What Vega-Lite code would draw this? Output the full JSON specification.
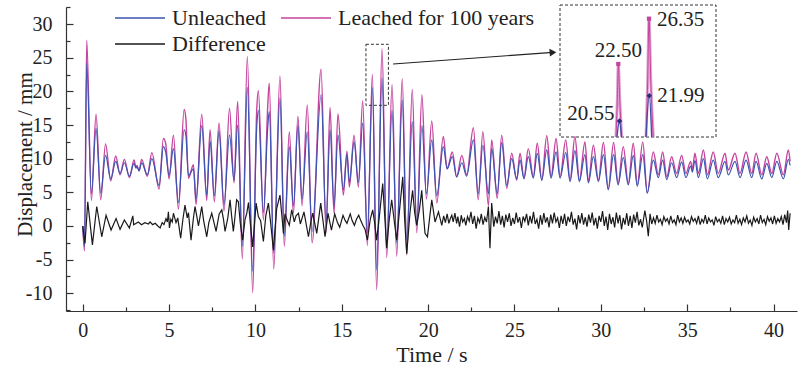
{
"$schema": "https://vega.github.io/schema/vega-lite/v6.json",
"width": 731, "height": 304,
"autosize": {"type": "none"},
"padding": {"left": 66, "top": 7, "right": 1, "bottom": 56},
"background": "white",
"config": {
  "view": {"stroke": null},
  "font": "Liberation Serif",
  "axis": {"grid": false, "domainColor": "#333", "tickColor": "#333", "domainWidth": 1.2, "tickWidth": 1.2, "labelColor": "#222", "titleColor": "#222", "labelFont": "Liberation Serif", "titleFont": "Liberation Serif", "labelFontSize": 20, "titleFontSize": 22, "titleFontWeight": "normal", "labelOverlap": false, "labelFlush": false}
},
"datasets": {
  "leached": [{"t":0,"v":0},{"t":0.1,"v":-3.7},{"t":0.23,"v":27.6},{"t":0.5,"v":3.8},{"t":0.77,"v":16.6},{"t":1.04,"v":3.9},{"t":1.32,"v":12.2},{"t":1.62,"v":6.7},{"t":1.91,"v":10.4},{"t":2.16,"v":7.6},{"t":2.41,"v":9.9},{"t":2.7,"v":7.2},{"t":2.97,"v":9.8},{"t":3.08,"v":8.7},{"t":3.14,"v":9.0},{"t":3.26,"v":8.2},{"t":3.41,"v":9.9},{"t":3.74,"v":7.4},{"t":4.0,"v":10.9},{"t":4.42,"v":5.5},{"t":4.67,"v":13.0},{"t":4.8,"v":12.3},{"t":5.0,"v":7.0},{"t":5.25,"v":13.5},{"t":5.54,"v":2.5},{"t":5.87,"v":17.3},{"t":5.97,"v":16.0},{"t":6.12,"v":7.1},{"t":6.41,"v":9.1},{"t":6.56,"v":3.2},{"t":6.89,"v":16.6},{"t":7.18,"v":3.8},{"t":7.37,"v":14.3},{"t":7.62,"v":3.6},{"t":7.89,"v":15.3},{"t":8.18,"v":2.2},{"t":8.5,"v":17.5},{"t":8.76,"v":6.4},{"t":8.97,"v":18.5},{"t":9.24,"v":-4.9},{"t":9.53,"v":25.2},{"t":9.84,"v":-9.9},{"t":10.07,"v":17.0},{"t":10.17,"v":20.1},{"t":10.46,"v":0.9},{"t":10.72,"v":18.3},{"t":10.8,"v":21.2},{"t":11.06,"v":-6.4},{"t":11.42,"v":22.3},{"t":11.67,"v":-3.0},{"t":11.96,"v":14.0},{"t":12.2,"v":1.9},{"t":12.46,"v":16.3},{"t":12.7,"v":3.0},{"t":13.0,"v":18.0},{"t":13.28,"v":-2.5},{"t":13.8,"v":23.3},{"t":14.09,"v":-1.0},{"t":14.32,"v":17.6},{"t":14.55,"v":1.9},{"t":14.78,"v":16.7},{"t":15.09,"v":4.6},{"t":15.3,"v":11.1},{"t":15.44,"v":5.8},{"t":15.71,"v":13.5},{"t":15.96,"v":5.8},{"t":16.21,"v":18.6},{"t":16.48,"v":-2.9},{"t":16.77,"v":22.5},{"t":17.02,"v":-9.5},{"t":17.33,"v":26.35},{"t":17.6,"v":-4.7},{"t":17.91,"v":21.0},{"t":18.18,"v":-4.5},{"t":18.5,"v":21.9},{"t":18.76,"v":-4.3},{"t":19.08,"v":20.3},{"t":19.34,"v":-1.0},{"t":19.64,"v":19.5},{"t":19.9,"v":4.0},{"t":20.21,"v":15.6},{"t":20.5,"v":3.4},{"t":20.88,"v":13.3},{"t":21.1,"v":8.5},{"t":21.4,"v":11.0},{"t":21.65,"v":7.3},{"t":21.95,"v":10.5},{"t":22.23,"v":7.6},{"t":22.62,"v":14.6},{"t":22.9,"v":3.9},{"t":23.17,"v":14.0},{"t":23.49,"v":3.0},{"t":23.68,"v":12.8},{"t":24.0,"v":4.1},{"t":24.26,"v":13.5},{"t":24.55,"v":5.6},{"t":24.84,"v":10.8},{"t":25.13,"v":6.8},{"t":25.32,"v":10.8},{"t":25.55,"v":7.1},{"t":25.8,"v":11.5},{"t":26.09,"v":7.3},{"t":26.32,"v":12.3},{"t":26.58,"v":6.8},{"t":26.87,"v":13.4},{"t":27.12,"v":7.3},{"t":27.41,"v":13.0},{"t":27.64,"v":7.3},{"t":27.97,"v":12.8},{"t":28.22,"v":6.8},{"t":28.5,"v":13.3},{"t":28.76,"v":6.8},{"t":29.08,"v":12.5},{"t":29.28,"v":6.6},{"t":29.57,"v":12.0},{"t":29.86,"v":6.8},{"t":30.15,"v":12.4},{"t":30.43,"v":5.5},{"t":30.74,"v":12.4},{"t":31.0,"v":6.3},{"t":31.3,"v":11.8},{"t":31.59,"v":6.3},{"t":31.88,"v":12.3},{"t":32.11,"v":6.1},{"t":32.43,"v":12.5},{"t":32.69,"v":4.9},{"t":33.04,"v":11.0},{"t":33.33,"v":7.6},{"t":33.58,"v":11.0},{"t":33.82,"v":7.3},{"t":34.1,"v":10.3},{"t":34.39,"v":7.8},{"t":34.68,"v":10.5},{"t":34.93,"v":7.8},{"t":35.2,"v":9.6},{"t":35.3,"v":8.4},{"t":35.45,"v":10.8},{"t":35.65,"v":7.8},{"t":35.94,"v":11.3},{"t":36.17,"v":7.6},{"t":36.51,"v":11.0},{"t":36.8,"v":7.8},{"t":37.19,"v":10.8},{"t":37.38,"v":8.3},{"t":37.77,"v":10.8},{"t":38.06,"v":7.8},{"t":38.41,"v":11.0},{"t":38.74,"v":7.8},{"t":38.99,"v":10.8},{"t":39.32,"v":7.6},{"t":39.61,"v":10.3},{"t":39.9,"v":7.8},{"t":40.19,"v":10.8},{"t":40.57,"v":7.6},{"t":40.86,"v":11.3},{"t":40.96,"v":9.6}],
  "unleached": [{"t":0,"v":0},{"t":0.1,"v":-3.0},{"t":0.23,"v":24.2},{"t":0.5,"v":4.8},{"t":0.77,"v":14.5},{"t":1.04,"v":4.9},{"t":1.32,"v":10.5},{"t":1.62,"v":7.0},{"t":1.91,"v":9.6},{"t":2.16,"v":7.8},{"t":2.41,"v":9.4},{"t":2.7,"v":7.4},{"t":2.97,"v":9.3},{"t":3.08,"v":8.6},{"t":3.14,"v":8.8},{"t":3.26,"v":8.2},{"t":3.41,"v":9.4},{"t":3.74,"v":7.6},{"t":4.0,"v":10.0},{"t":4.42,"v":6.0},{"t":4.67,"v":11.8},{"t":4.8,"v":11.0},{"t":5.0,"v":7.5},{"t":5.25,"v":11.5},{"t":5.54,"v":3.5},{"t":5.87,"v":14.3},{"t":5.97,"v":13.5},{"t":6.12,"v":7.5},{"t":6.41,"v":8.5},{"t":6.56,"v":4.0},{"t":6.89,"v":14.9},{"t":7.18,"v":4.6},{"t":7.37,"v":12.6},{"t":7.62,"v":4.5},{"t":7.89,"v":14.1},{"t":8.18,"v":3.2},{"t":8.5,"v":13.5},{"t":8.76,"v":6.8},{"t":8.97,"v":15.0},{"t":9.24,"v":-3.0},{"t":9.53,"v":20.6},{"t":9.84,"v":-6.7},{"t":10.07,"v":14.5},{"t":10.17,"v":17.2},{"t":10.46,"v":2.0},{"t":10.72,"v":15.0},{"t":10.8,"v":17.0},{"t":11.06,"v":-4.0},{"t":11.42,"v":19.0},{"t":11.67,"v":-1.5},{"t":11.96,"v":11.8},{"t":12.2,"v":3.0},{"t":12.46,"v":14.9},{"t":12.7,"v":4.0},{"t":13.0,"v":14.0},{"t":13.28,"v":-0.8},{"t":13.8,"v":19.5},{"t":14.09,"v":0.5},{"t":14.32,"v":14.3},{"t":14.55,"v":3.0},{"t":14.78,"v":13.5},{"t":15.09,"v":5.4},{"t":15.3,"v":10.6},{"t":15.44,"v":6.5},{"t":15.71,"v":12.5},{"t":15.96,"v":6.5},{"t":16.21,"v":15.3},{"t":16.48,"v":-1.0},{"t":16.77,"v":20.55},{"t":17.02,"v":-6.5},{"t":17.33,"v":21.99},{"t":17.6,"v":-2.8},{"t":17.91,"v":17.2},{"t":18.18,"v":-2.5},{"t":18.5,"v":18.7},{"t":18.76,"v":-2.0},{"t":19.08,"v":15.5},{"t":19.34,"v":0.5},{"t":19.64,"v":14.9},{"t":19.9,"v":4.8},{"t":20.21,"v":12.8},{"t":20.5,"v":4.5},{"t":20.88,"v":11.8},{"t":21.1,"v":8.5},{"t":21.4,"v":10.3},{"t":21.65,"v":7.3},{"t":21.95,"v":9.4},{"t":22.23,"v":7.4},{"t":22.62,"v":12.8},{"t":22.9,"v":4.8},{"t":23.17,"v":12.0},{"t":23.49,"v":4.8},{"t":23.68,"v":11.5},{"t":24.0,"v":4.8},{"t":24.26,"v":12.4},{"t":24.55,"v":6.0},{"t":24.84,"v":10.0},{"t":25.13,"v":7.0},{"t":25.32,"v":9.8},{"t":25.55,"v":7.0},{"t":25.8,"v":10.3},{"t":26.09,"v":7.1},{"t":26.32,"v":10.8},{"t":26.58,"v":6.8},{"t":26.87,"v":11.3},{"t":27.12,"v":7.1},{"t":27.41,"v":11.0},{"t":27.64,"v":7.1},{"t":27.97,"v":10.9},{"t":28.22,"v":6.6},{"t":28.5,"v":11.2},{"t":28.76,"v":6.6},{"t":29.08,"v":10.6},{"t":29.28,"v":6.4},{"t":29.57,"v":10.3},{"t":29.86,"v":6.6},{"t":30.15,"v":10.6},{"t":30.43,"v":5.4},{"t":30.74,"v":10.6},{"t":31.0,"v":6.1},{"t":31.3,"v":10.2},{"t":31.59,"v":6.1},{"t":31.88,"v":10.5},{"t":32.11,"v":5.9},{"t":32.43,"v":10.6},{"t":32.69,"v":4.9},{"t":33.04,"v":9.8},{"t":33.33,"v":7.2},{"t":33.58,"v":9.8},{"t":33.82,"v":6.9},{"t":34.1,"v":9.4},{"t":34.39,"v":7.2},{"t":34.68,"v":9.5},{"t":34.93,"v":7.2},{"t":35.2,"v":8.9},{"t":35.3,"v":8.0},{"t":35.45,"v":9.7},{"t":35.65,"v":7.2},{"t":35.94,"v":10.0},{"t":36.17,"v":7.0},{"t":36.51,"v":9.8},{"t":36.8,"v":7.2},{"t":37.19,"v":9.6},{"t":37.38,"v":7.6},{"t":37.77,"v":9.6},{"t":38.06,"v":7.2},{"t":38.41,"v":9.8},{"t":38.74,"v":7.2},{"t":38.99,"v":9.6},{"t":39.32,"v":7.0},{"t":39.61,"v":9.3},{"t":39.9,"v":7.2},{"t":40.19,"v":9.6},{"t":40.57,"v":7.0},{"t":40.86,"v":9.9},{"t":40.96,"v":9.0}],
  "difference": [{"t":0,"v":0},{"t":0.13,"v":-2.6},{"t":0.29,"v":3.6},{"t":0.56,"v":-2.8},{"t":0.81,"v":2.9},{"t":1.1,"v":-1.6},{"t":1.35,"v":1.6},{"t":1.64,"v":-0.6},{"t":1.93,"v":1.1},{"t":2.16,"v":-0.5},{"t":2.41,"v":0.9},{"t":2.7,"v":-0.3},{"t":2.9,"v":1.5},{"t":2.95,"v":0.2},{"t":3.22,"v":0.6},{"t":3.4,"v":0.2},{"t":3.6,"v":0.5},{"t":3.8,"v":0.3},{"t":3.9,"v":0.6},{"t":4.05,"v":0.2},{"t":4.2,"v":0.4},{"t":4.35,"v":0.0},{"t":4.48,"v":-0.3},{"t":4.6,"v":0.5},{"t":4.7,"v":0.2},{"t":4.82,"v":1.1},{"t":4.9,"v":0.6},{"t":4.96,"v":2.1},{"t":5.02,"v":-0.3},{"t":5.1,"v":1.0},{"t":5.18,"v":0.6},{"t":5.25,"v":1.9},{"t":5.4,"v":0.5},{"t":5.5,"v":1.2},{"t":5.67,"v":-1.8},{"t":5.8,"v":1.0},{"t":5.92,"v":3.1},{"t":6.05,"v":1.2},{"t":6.12,"v":2.0},{"t":6.27,"v":-2.1},{"t":6.4,"v":1.0},{"t":6.5,"v":2.9},{"t":6.6,"v":1.5},{"t":6.7,"v":0.0},{"t":6.8,"v":1.5},{"t":6.89,"v":2.9},{"t":7.0,"v":0.8},{"t":7.18,"v":-1.6},{"t":7.3,"v":0.5},{"t":7.47,"v":1.9},{"t":7.6,"v":0.5},{"t":7.72,"v":-0.8},{"t":7.9,"v":1.8},{"t":8.05,"v":2.4},{"t":8.15,"v":1.0},{"t":8.24,"v":-0.8},{"t":8.4,"v":1.2},{"t":8.53,"v":3.9},{"t":8.62,"v":1.5},{"t":8.72,"v":-0.8},{"t":8.8,"v":1.0},{"t":8.91,"v":3.9},{"t":9.01,"v":3.6},{"t":9.12,"v":0.5},{"t":9.26,"v":-2.1},{"t":9.4,"v":1.0},{"t":9.5,"v":1.9},{"t":9.6,"v":3.5},{"t":9.7,"v":0.5},{"t":9.84,"v":-3.1},{"t":10.04,"v":3.4},{"t":10.17,"v":1.4},{"t":10.3,"v":0.8},{"t":10.46,"v":-2.3},{"t":10.6,"v":1.5},{"t":10.75,"v":3.4},{"t":10.88,"v":0.5},{"t":11.04,"v":-3.6},{"t":11.23,"v":2.6},{"t":11.42,"v":4.6},{"t":11.55,"v":1.0},{"t":11.62,"v":-1.1},{"t":11.71,"v":1.8},{"t":11.85,"v":0.8},{"t":11.96,"v":0.1},{"t":12.1,"v":2.4},{"t":12.25,"v":0.6},{"t":12.35,"v":1.5},{"t":12.49,"v":1.9},{"t":12.6,"v":0.3},{"t":12.81,"v":2.1},{"t":13.07,"v":-1.6},{"t":13.2,"v":0.5},{"t":13.32,"v":1.9},{"t":13.45,"v":0.2},{"t":13.55,"v":-1.1},{"t":13.78,"v":3.4},{"t":14.03,"v":-1.6},{"t":14.2,"v":1.9},{"t":14.4,"v":-0.6},{"t":14.59,"v":1.8},{"t":14.75,"v":0.5},{"t":14.88,"v":-0.2},{"t":15.07,"v":1.6},{"t":15.2,"v":0.8},{"t":15.3,"v":0.4},{"t":15.49,"v":1.8},{"t":15.6,"v":0.8},{"t":15.73,"v":0.1},{"t":15.85,"v":1.0},{"t":15.98,"v":1.6},{"t":16.1,"v":0.8},{"t":16.22,"v":0.1},{"t":16.35,"v":-0.5},{"t":16.48,"v":-2.1},{"t":16.65,"v":1.0},{"t":16.79,"v":2.4},{"t":16.9,"v":0.5},{"t":17.02,"v":-2.1},{"t":17.2,"v":2.0},{"t":17.37,"v":6.3},{"t":17.6,"v":-3.3},{"t":17.75,"v":1.0},{"t":17.89,"v":3.9},{"t":18.05,"v":0.5},{"t":18.18,"v":-2.1},{"t":18.35,"v":2.5},{"t":18.53,"v":7.3},{"t":18.64,"v":1.0},{"t":18.76,"v":-4.1},{"t":18.95,"v":2.0},{"t":19.1,"v":5.3},{"t":19.22,"v":2.0},{"t":19.34,"v":0.1},{"t":19.5,"v":2.5},{"t":19.63,"v":5.3},{"t":19.75,"v":1.0},{"t":19.82,"v":-1.1},{"t":19.96,"v":-1.6},{"t":20.1,"v":1.5},{"t":20.21,"v":3.9},{"t":20.4,"v":0.6},{"t":20.6,"v":2.1},{"t":20.79,"v":0.1},{"t":20.9,"v":1.5},{"t":21.0,"v":0.5},{"t":21.1,"v":1.8},{"t":21.2,"v":0.4},{"t":21.3,"v":1.2},{"t":21.37,"v":1.6},{"t":21.45,"v":0.6},{"t":21.55,"v":1.9},{"t":21.65,"v":0.4},{"t":21.72,"v":1.4},{"t":21.82,"v":-0.1},{"t":21.92,"v":1.6},{"t":22.0,"v":0.6},{"t":22.1,"v":1.1},{"t":22.18,"v":0.1},{"t":22.28,"v":1.4},{"t":22.38,"v":0.7},{"t":22.48,"v":2.1},{"t":22.58,"v":0.3},{"t":22.68,"v":1.5},{"t":22.78,"v":-0.4},{"t":22.88,"v":1.2},{"t":22.98,"v":0.5},{"t":23.08,"v":1.8},{"t":23.18,"v":0.2},{"t":23.28,"v":1.3},{"t":23.38,"v":0.6},{"t":23.49,"v":2.9},{"t":23.58,"v":-3.3},{"t":23.68,"v":3.4},{"t":23.8,"v":-0.1},{"t":23.9,"v":1.4},{"t":24.0,"v":0.4},{"t":24.1,"v":2.2},{"t":24.2,"v":0.2},{"t":24.3,"v":1.5},{"t":24.4,"v":-0.2},{"t":24.5,"v":1.7},{"t":24.6,"v":0.6},{"t":24.7,"v":1.9},{"t":24.8,"v":0.0},{"t":24.9,"v":1.2},{"t":25.0,"v":0.3},{"t":25.1,"v":2.0},{"t":25.2,"v":0.5},{"t":25.3,"v":1.3},{"t":25.4,"v":-0.3},{"t":25.5,"v":1.4},{"t":25.6,"v":0.7},{"t":25.7,"v":1.8},{"t":25.8,"v":0.1},{"t":25.9,"v":1.5},{"t":26.0,"v":0.4},{"t":26.1,"v":2.1},{"t":26.2,"v":0.3},{"t":26.3,"v":1.0},{"t":26.4,"v":-0.4},{"t":26.5,"v":1.6},{"t":26.6,"v":0.2},{"t":26.7,"v":1.9},{"t":26.8,"v":0.5},{"t":26.9,"v":1.3},{"t":27.0,"v":-0.2},{"t":27.1,"v":1.7},{"t":27.2,"v":0.4},{"t":27.3,"v":2.0},{"t":27.4,"v":0.6},{"t":27.5,"v":1.2},{"t":27.6,"v":-0.3},{"t":27.7,"v":1.5},{"t":27.8,"v":0.3},{"t":27.9,"v":1.8},{"t":28.0,"v":0.0},{"t":28.1,"v":1.4},{"t":28.2,"v":0.6},{"t":28.3,"v":2.1},{"t":28.4,"v":0.2},{"t":28.5,"v":1.1},{"t":28.6,"v":-0.5},{"t":28.7,"v":1.6},{"t":28.8,"v":0.4},{"t":28.9,"v":1.9},{"t":29.0,"v":0.2},{"t":29.1,"v":1.3},{"t":29.2,"v":-0.1},{"t":29.3,"v":1.7},{"t":29.4,"v":0.5},{"t":29.5,"v":2.0},{"t":29.6,"v":0.1},{"t":29.7,"v":1.2},{"t":29.8,"v":-0.4},{"t":29.9,"v":1.5},{"t":30.0,"v":0.6},{"t":30.1,"v":2.2},{"t":30.2,"v":0.0},{"t":30.3,"v":1.4},{"t":30.4,"v":-0.6},{"t":30.5,"v":1.8},{"t":30.6,"v":0.3},{"t":30.7,"v":1.3},{"t":30.8,"v":-0.2},{"t":30.9,"v":2.0},{"t":31.0,"v":0.4},{"t":31.1,"v":1.6},{"t":31.2,"v":-0.5},{"t":31.3,"v":1.2},{"t":31.4,"v":0.2},{"t":31.5,"v":1.9},{"t":31.6,"v":0.0},{"t":31.7,"v":1.5},{"t":31.8,"v":-0.3},{"t":31.9,"v":1.7},{"t":32.0,"v":0.5},{"t":32.1,"v":2.1},{"t":32.2,"v":0.1},{"t":32.3,"v":1.0},{"t":32.4,"v":-0.2},{"t":32.55,"v":2.3},{"t":32.65,"v":0.8},{"t":32.75,"v":-1.5},{"t":32.85,"v":1.8},{"t":32.95,"v":0.3},{"t":33.05,"v":1.2},{"t":33.15,"v":0.4},{"t":33.25,"v":1.6},{"t":33.35,"v":0.6},{"t":33.45,"v":1.0},{"t":33.55,"v":0.2},{"t":33.65,"v":1.4},{"t":33.75,"v":0.7},{"t":33.85,"v":1.1},{"t":33.95,"v":0.3},{"t":34.05,"v":1.5},{"t":34.15,"v":0.5},{"t":34.25,"v":0.9},{"t":34.35,"v":0.2},{"t":34.45,"v":1.6},{"t":34.55,"v":0.6},{"t":34.65,"v":1.2},{"t":34.75,"v":0.4},{"t":34.85,"v":1.3},{"t":34.95,"v":0.6},{"t":35.05,"v":0.9},{"t":35.15,"v":0.3},{"t":35.25,"v":1.4},{"t":35.35,"v":0.7},{"t":35.45,"v":1.1},{"t":35.55,"v":0.4},{"t":35.65,"v":1.5},{"t":35.75,"v":0.2},{"t":35.85,"v":1.0},{"t":35.95,"v":0.5},{"t":36.05,"v":1.6},{"t":36.15,"v":0.3},{"t":36.25,"v":1.2},{"t":36.35,"v":0.6},{"t":36.45,"v":0.9},{"t":36.55,"v":0.1},{"t":36.65,"v":1.4},{"t":36.75,"v":0.6},{"t":36.85,"v":1.0},{"t":36.95,"v":0.4},{"t":37.05,"v":1.5},{"t":37.15,"v":0.2},{"t":37.25,"v":1.1},{"t":37.35,"v":0.6},{"t":37.45,"v":1.3},{"t":37.55,"v":0.3},{"t":37.65,"v":0.9},{"t":37.75,"v":0.5},{"t":37.85,"v":1.6},{"t":37.95,"v":0.4},{"t":38.05,"v":1.0},{"t":38.15,"v":0.2},{"t":38.25,"v":1.2},{"t":38.35,"v":0.6},{"t":38.45,"v":1.5},{"t":38.55,"v":0.4},{"t":38.65,"v":0.9},{"t":38.75,"v":0.1},{"t":38.85,"v":1.3},{"t":38.95,"v":0.6},{"t":39.05,"v":1.1},{"t":39.15,"v":0.3},{"t":39.25,"v":1.6},{"t":39.35,"v":0.5},{"t":39.45,"v":1.0},{"t":39.55,"v":0.2},{"t":39.65,"v":1.4},{"t":39.75,"v":0.7},{"t":39.85,"v":1.2},{"t":39.95,"v":0.3},{"t":40.05,"v":1.5},{"t":40.15,"v":0.4},{"t":40.25,"v":1.1},{"t":40.35,"v":0.6},{"t":40.45,"v":1.4},{"t":40.55,"v":0.2},{"t":40.65,"v":1.7},{"t":40.75,"v":0.5},{"t":40.82,"v":2.3},{"t":40.88,"v":-0.6},{"t":40.96,"v":1.9}],
  "zoomBox": [{"t1":16.4,"t2":17.7,"v1":17.93,"v2":27.0}],
  "arrow": [{"t1":17.97,"v1":24.07,"t2":27.23,"v2":25.8}],
  "insetBox": [{"t1":15.72,"t2":18.54,"v1":19.64,"v2":27.51}],
  "insetL": [{"g":1,"t":16.732,"v":19.64},{"g":1,"t":16.756,"v":21.7},{"g":1,"t":16.774,"v":22.5},{"g":1,"t":16.801,"v":21.7},{"g":1,"t":16.835,"v":19.64},{"g":2,"t":17.275,"v":19.64},{"g":2,"t":17.304,"v":22.2},{"g":2,"t":17.329,"v":26.35},{"g":2,"t":17.362,"v":22.2},{"g":2,"t":17.406,"v":19.64}],
  "insetU": [{"g":1,"t":16.75,"v":19.64},{"g":1,"t":16.796,"v":20.55},{"g":1,"t":16.832,"v":19.64},{"g":2,"t":17.275,"v":19.64},{"g":2,"t":17.334,"v":21.99},{"g":2,"t":17.377,"v":19.64}],
  "peaks": [{"s":"L","t":16.774,"v":22.5,"label":"22.50"},{"s":"L","t":17.329,"v":26.35,"label":"26.35"},{"s":"U","t":16.796,"v":20.55,"label":"20.55"},{"s":"U","t":17.334,"v":21.99,"label":"21.99"}]
},
"resolve": {"scale": {"x": "independent", "y": "independent"}},
"layer": [
  {
    "encoding": {
      "x": {"field": "t", "type": "quantitative", "scale": {"domain": [-0.97, 41.36], "nice": false, "zero": false},
        "axis": {"title": "Time / s", "values": [0,2.5,5,7.5,10,12.5,15,17.5,20,22.5,25,27.5,30,32.5,35,37.5,40],
          "labelExpr": "datum.value % 5 === 0 ? '' + datum.value : ''",
          "tickSize": {"condition": {"test": "datum.value % 5 === 0", "value": -7}, "value": -4},
          "labelPadding": 16, "titleY": 50, "titleBaseline": "alphabetic"}},
      "y": {"field": "v", "type": "quantitative", "scale": {"domain": [-12.63, 32.54], "nice": false, "zero": false},
        "axis": {"title": "Displacement / mm", "values": [-12.5,-10,-7.5,-5,-2.5,0,2.5,5,7.5,10,12.5,15,17.5,20,22.5,25,27.5,30,32.5],
          "labelExpr": "datum.value % 5 === 0 ? '' + datum.value : ''",
          "tickSize": {"condition": {"test": "datum.value % 5 === 0", "value": -7}, "value": -4},
          "labelPadding": 21, "titleX": -35, "titleY": 147, "titleFontSize": 21, "titleBaseline": "alphabetic"}}
    },
    "layer": [
      {"data": {"name": "leached"}, "mark": {"type": "line", "interpolate": "monotone", "strokeWidth": 1.4},
       "encoding": {"color": {"datum": "Leached for 100 years", "type": "nominal",
         "scale": {"domain": ["Unleached", "Leached for 100 years", "Difference"], "range": ["#3b55b0", "#c4449e", "#1a1a1a"]},
         "legend": {"orient": "none", "legendX": 63, "legendY": 0, "columns": 2, "direction": "horizontal", "symbolType": "M-2.5,0H2.5", "symbolSize": 400, "symbolStrokeWidth": 1.3, "symbolFillColor": "transparent", "labelFont": "Liberation Serif", "labelFontSize": 22, "labelColor": "#222", "labelOffset": 21, "columnPadding": 11, "rowPadding": 4, "padding": 0, "title": null, "labelLimit": 400}}}},
      {"data": {"name": "unleached"}, "mark": {"type": "line", "interpolate": "monotone", "strokeWidth": 1.2},
       "encoding": {"color": {"datum": "Unleached", "type": "nominal"}}},
      {"data": {"name": "difference"}, "mark": {"type": "line", "strokeWidth": 1.2},
       "encoding": {"color": {"datum": "Difference", "type": "nominal"}}},
      {"data": {"name": "zoomBox"}, "mark": {"type": "rect", "fillOpacity": 0, "stroke": "#333", "strokeWidth": 1, "strokeDash": [3, 2]},
       "encoding": {"x": {"field": "t1", "type": "quantitative"}, "x2": {"field": "t2"}, "y": {"field": "v1", "type": "quantitative"}, "y2": {"field": "v2"}}},
      {"data": {"name": "arrow"}, "mark": {"type": "rule", "stroke": "#222", "strokeWidth": 1.1},
       "encoding": {"x": {"field": "t1", "type": "quantitative"}, "x2": {"field": "t2"}, "y": {"field": "v1", "type": "quantitative"}, "y2": {"field": "v2"}}},
      {"data": {"name": "arrow"}, "mark": {"type": "point", "shape": "triangle-right", "filled": true, "color": "#222", "size": 60, "angle": 356, "opacity": 1},
       "encoding": {"x": {"field": "t2", "type": "quantitative"}, "y": {"field": "v2", "type": "quantitative"}}}
    ]
  },
  {
    "encoding": {
      "x": {"field": "t", "type": "quantitative", "axis": null, "scale": {"domain": [15.72, 18.54], "range": [494, 650], "nice": false, "zero": false}},
      "y": {"field": "v", "type": "quantitative", "axis": null, "scale": {"domain": [19.64, 20.55, 21.99, 22.5, 26.35, 27.51], "range": [130, 114, 88.7, 57, 11.7, -2], "nice": false, "zero": false}}
    },
    "layer": [
      {"data": {"name": "insetBox"}, "mark": {"type": "rect", "fillOpacity": 0, "stroke": "#333", "strokeWidth": 1, "strokeDash": [3, 2]},
       "encoding": {"x": {"field": "t1", "type": "quantitative"}, "x2": {"field": "t2"}, "y": {"field": "v1", "type": "quantitative"}, "y2": {"field": "v2"}}},
      {"data": {"name": "insetL"}, "mark": {"type": "line", "interpolate": "monotone", "stroke": "#e3a3d2", "strokeWidth": 3},
       "encoding": {"detail": {"field": "g", "type": "nominal"}}},
      {"data": {"name": "insetL"}, "mark": {"type": "line", "interpolate": "monotone", "stroke": "#c4449e", "strokeWidth": 1},
       "encoding": {"detail": {"field": "g", "type": "nominal"}}},
      {"data": {"name": "insetU"}, "mark": {"type": "line", "interpolate": "monotone", "stroke": "#3b4ea5", "strokeWidth": 1.3},
       "encoding": {"detail": {"field": "g", "type": "nominal"}}},
      {"data": {"name": "peaks"}, "transform": [{"filter": "datum.s === 'L'"}], "mark": {"type": "point", "shape": "square", "filled": true, "color": "#c4449e", "size": 18, "opacity": 1}},
      {"data": {"name": "peaks"}, "transform": [{"filter": "datum.s === 'U'"}], "mark": {"type": "point", "shape": "diamond", "filled": true, "color": "#252f7a", "size": 30, "opacity": 1}},
      {"data": {"name": "peaks"}, "transform": [{"filter": "datum.label === '26.35'"}], "mark": {"type": "text", "align": "left", "baseline": "middle", "dx": 8, "dy": 1, "font": "Liberation Serif", "fontSize": 21, "color": "#222"}, "encoding": {"text": {"field": "label"}}},
      {"data": {"name": "peaks"}, "transform": [{"filter": "datum.label === '22.50'"}], "mark": {"type": "text", "align": "center", "baseline": "alphabetic", "dy": -7, "font": "Liberation Serif", "fontSize": 21, "color": "#222"}, "encoding": {"text": {"field": "label"}}},
      {"data": {"name": "peaks"}, "transform": [{"filter": "datum.label === '21.99'"}], "mark": {"type": "text", "align": "left", "baseline": "middle", "dx": 8, "dy": 0, "font": "Liberation Serif", "fontSize": 21, "color": "#222"}, "encoding": {"text": {"field": "label"}}},
      {"data": {"name": "peaks"}, "transform": [{"filter": "datum.label === '20.55'"}], "mark": {"type": "text", "align": "right", "baseline": "alphabetic", "dx": -5, "dy": -1, "font": "Liberation Serif", "fontSize": 21, "color": "#222"}, "encoding": {"text": {"field": "label"}}}
    ]
  }
]
}
